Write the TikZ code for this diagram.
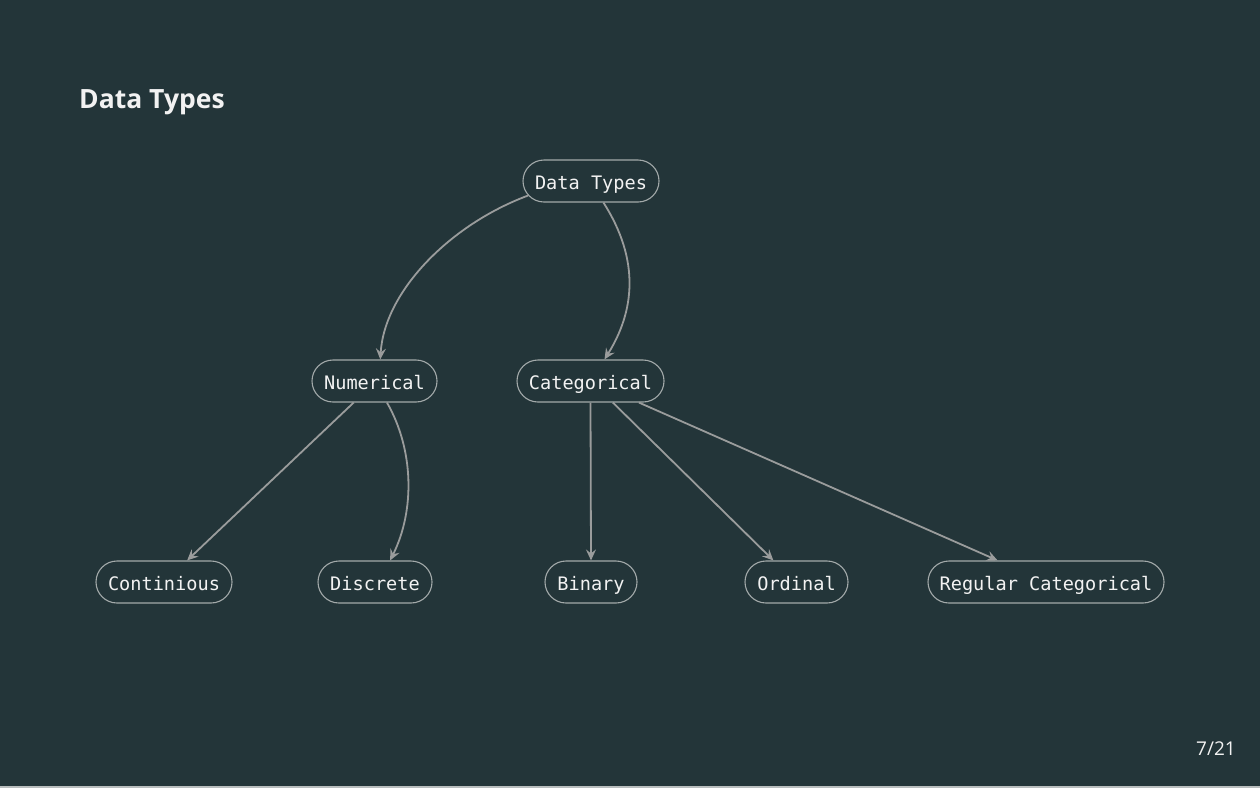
\documentclass[tikz,border=0pt]{standalone}
\usepackage{fontspec}
\setmainfont{Open Sans}
\newfontfamily\monofnt{DejaVu Sans Mono}
\usetikzlibrary{shapes.misc,arrows.meta}
\definecolor{bgc}{HTML}{233539}
\definecolor{edgec}{HTML}{9A9C9C}
\definecolor{borderc}{HTML}{A3AAAA}
\definecolor{txtc}{HTML}{F2F2F2}
\definecolor{stripc}{HTML}{B9BEBE}
\begin{document}
\begin{tikzpicture}[x=1pt,y=-1pt,
  box/.style={rounded rectangle, draw=borderc, line width=1.1pt, text=txtc,
    minimum height=42pt, inner xsep=0pt, inner ysep=0pt,
    text height=17pt, text depth=1pt,
    font=\monofnt\fontsize{18.6}{20}\selectfont},
  conn/.style={draw=edgec, line width=1.8pt,
    -{Stealth[length=11pt,width=10pt,inset=4pt]}}]
\fill[bgc] (0,0) rectangle (1260,788);
\fill[stripc] (0,786) rectangle (1260,788);
\useasboundingbox (0,0) rectangle (1260,788);

\node[anchor=base west, text=txtc, inner xsep=0pt, font=\bfseries\fontsize{26.5}{30}\selectfont] (title) at (79,108) {Data Types};
\node[anchor=base east, text=txtc, inner xsep=0pt, font=\fontsize{19}{22}\selectfont] (page) at (1236,755) {7/21};

\node[box, minimum width=136pt] (dt) at (591,181) {Data Types};
\node[box, minimum width=125pt] (num) at (374.5,381) {Numerical};
\node[box, minimum width=147pt] (cat) at (590.5,381) {Categorical};
\node[box, minimum width=136pt] (cont) at (164,582) {Continious};
\node[box, minimum width=114pt] (disc) at (375,582) {Discrete};
\node[box, minimum width=92pt] (bin) at (591,582) {Binary};
\node[box, minimum width=103pt] (ord) at (796.5,582) {Ordinal};
\node[box, minimum width=236pt] (reg) at (1046,582) {Regular Categorical};

\draw[conn] (dt.193) .. controls +(-78,29) and +(4,-68) .. (num.75);
\draw[conn] (dt.300) .. controls +(37,58) and +(30,-48) .. (cat.57);
\draw[conn] (num.226) -- (cont.43);
\draw[conn] (num.300) .. controls +(27,47) and +(25,-50) .. (disc.55);
\draw[conn] (cat.south) -- (bin.north);
\draw[conn] (cat.316) -- (ord.137);
\draw[conn] (cat.336) -- (reg.156);
\end{tikzpicture}
\end{document}
